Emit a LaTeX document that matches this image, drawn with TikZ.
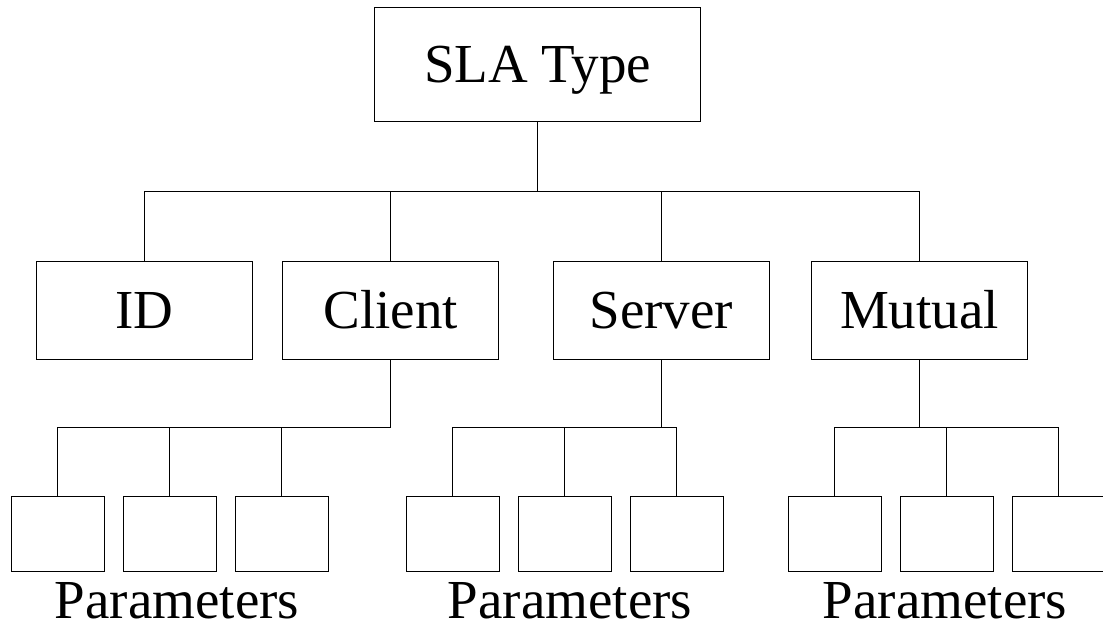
\documentclass[tikz,border=0pt]{standalone}
\usepackage{fontspec}
\setmainfont{Liberation Serif}
\begin{document}
\begin{tikzpicture}[x=1pt,y=-1pt,line width=1pt,
  box/.style={draw,inner sep=0pt,text height=36.2pt,text depth=0pt,
    font=\fontsize{55}{60}\selectfont},
  slabox/.style={box,minimum width=326pt,minimum height=113.7pt},
  kindbox/.style={box,minimum width=216pt,minimum height=98pt},
  parbox/.style={box,minimum width=93pt,minimum height=75pt},
  parlabel/.style={inner sep=0pt,anchor=base,font=\fontsize{55}{60}\selectfont}]%
% SLA type tree, levels: type, kind, parameters
\useasboundingbox (0,0) rectangle (1103,624);
\coordinate (bus) at (537.7,191.5);
\coordinate (sub) at (0,427.3);
\node[slabox] (sla) at (537.7,64.2) {SLA Type};
\node[kindbox] (id) at (144.5,310) {ID};
\node[kindbox] (client) at (390.7,310) {Client};
\node[kindbox] (server) at (661.3,310) {Server};
\node[kindbox] (mutual) at (919.5,310) {Mutual};
\node[parbox] (c1) at (57.8,533.5) {};
\node[parbox] (c2) at (169.6,533.5) {};
\node[parbox] (c3) at (281.8,533.5) {};
\node[parbox] (s1) at (452.9,533.5) {};
\node[parbox] (s2) at (564.8,533.5) {};
\node[parbox] (s3) at (676.8,533.5) {};
\node[parbox] (m1) at (834.6,533.5) {};
\node[parbox] (m2) at (946.8,533.5) {};
\node[parbox] (m3) at (1058.9,533.5) {};
\node[parlabel] (cpar) at (177,618) {Parameters};
\node[parlabel] (spar) at (570,618) {Parameters};
\node[parlabel] (mpar) at (945,618) {Parameters};
\draw (sla.south) -- (bus) -| (id.north);
\draw (bus) -| (client.north);
\draw (bus) -| (server.north);
\draw (bus) -| (mutual.north);
\draw (client.south) -- (client.south |- sub) -| (c1.north);
\draw (client.south |- sub) -| (c2.north);
\draw (client.south |- sub) -| (c3.north);
\draw (server.south) -- (server.south |- sub) -| (s1.north);
\draw (server.south |- sub) -| (s2.north);
\draw (server.south |- sub) -| (s3.north);
\draw (mutual.south) -- (mutual.south |- sub) -| (m1.north);
\draw (mutual.south |- sub) -| (m2.north);
\draw (mutual.south |- sub) -| (m3.north);
\end{tikzpicture}
\end{document}
